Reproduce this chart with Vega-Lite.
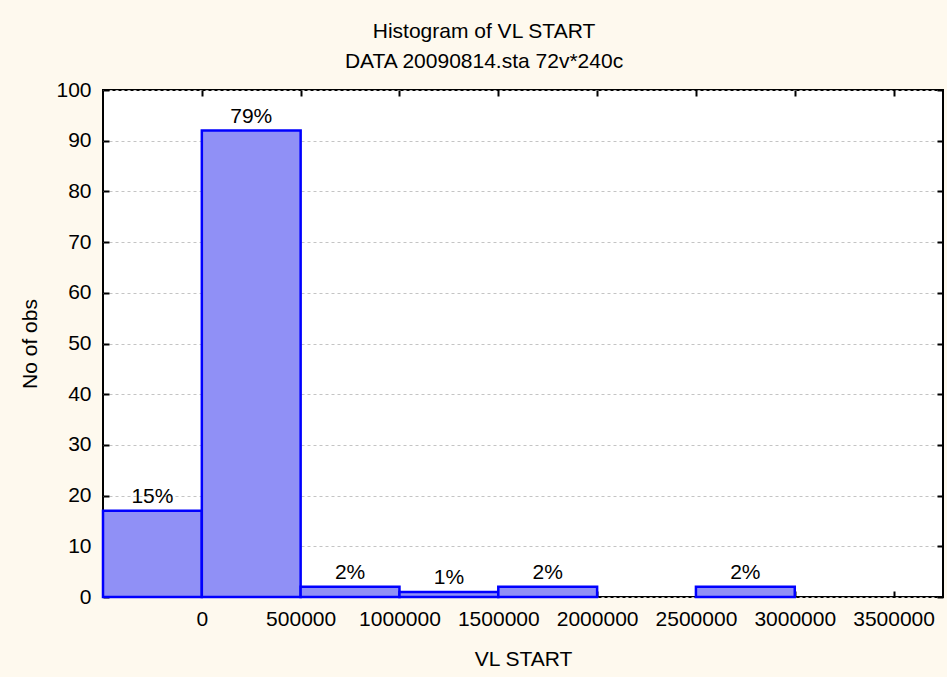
{
  "$schema": "https://vega.github.io/schema/vega-lite/v6.json",
  "width": 840,
  "height": 507,
  "autosize": {"type": "none"},
  "padding": {"left": 103, "top": 90, "right": 4, "bottom": 80},
  "background": "#FEF9EE",
  "title": {
    "text": "Histogram of VL START",
    "subtitle": "DATA 20090814.sta 72v*240c",
    "anchor": "middle",
    "dx": -39,
    "offset": 7,
    "fontSize": 21,
    "subtitleFontSize": 21,
    "fontWeight": "normal",
    "font": "Liberation Sans",
    "subtitleFont": "Liberation Sans",
    "color": "#000000",
    "subtitleColor": "#000000",
    "subtitlePadding": 9
  },
  "config": {
    "font": "Liberation Sans",
    "view": {"fill": "white", "stroke": "#000000", "strokeWidth": 2},
    "axis": {
      "labelFont": "Liberation Sans",
      "titleFont": "Liberation Sans",
      "labelFontSize": 21,
      "titleFontSize": 21,
      "labelColor": "#000000",
      "titleColor": "#000000",
      "titleFontWeight": "normal",
      "domain": false,
      "tickColor": "#000000",
      "tickWidth": 2
    }
  },
  "data": {
    "values": [
      {"bin_start": -500000, "bin_end": 0, "count": 17, "pct": "15%"},
      {"bin_start": 0, "bin_end": 500000, "count": 92, "pct": "79%"},
      {"bin_start": 500000, "bin_end": 1000000, "count": 2, "pct": "2%"},
      {"bin_start": 1000000, "bin_end": 1500000, "count": 1, "pct": "1%"},
      {"bin_start": 1500000, "bin_end": 2000000, "count": 2, "pct": "2%"},
      {"bin_start": 2500000, "bin_end": 3000000, "count": 2, "pct": "2%"}
    ]
  },
  "resolve": {"axis": {"x": "independent", "y": "independent"}},
  "layer": [
    {
      "mark": {"type": "rect", "fill": "#9090F6", "stroke": "#0000FF", "strokeWidth": 2.5},
      "encoding": {
        "x": {
          "field": "bin_start",
          "type": "quantitative",
          "scale": {"domain": [-500000, 3750000], "nice": false, "zero": false},
          "axis": {
            "orient": "bottom",
            "title": "VL START",
            "values": [0, 500000, 1000000, 1500000, 2000000, 2500000, 3000000, 3500000],
            "format": "d",
            "tickSize": -6,
            "labelPadding": 17,
            "titlePadding": 19,
            "grid": false,
            "labelFlush": false,
            "labelOverlap": false
          }
        },
        "x2": {"field": "bin_end"},
        "y": {
          "field": "count",
          "type": "quantitative",
          "scale": {"domain": [0, 100], "nice": false},
          "axis": {
            "orient": "left",
            "title": "No of obs",
            "values": [0, 10, 20, 30, 40, 50, 60, 70, 80, 90, 100],
            "tickSize": -6,
            "labelPadding": 18,
            "titlePadding": 15,
            "grid": true,
            "gridColor": "#C4C4C4",
            "gridDash": [3, 3],
            "gridWidth": 1
          }
        },
        "y2": {"datum": 0}
      }
    },
    {
      "transform": [{"calculate": "(datum.bin_start + datum.bin_end) / 2", "as": "bin_mid"}],
      "mark": {"type": "text", "baseline": "alphabetic", "align": "center", "dy": -8, "fontSize": 21, "font": "Liberation Sans", "color": "#000000"},
      "encoding": {
        "x": {
          "field": "bin_mid",
          "type": "quantitative",
          "scale": {"domain": [-500000, 3750000], "nice": false, "zero": false},
          "axis": {
            "orient": "top",
            "title": null,
            "labels": false,
            "values": [0, 500000, 1000000, 1500000, 2000000, 2500000, 3000000, 3500000],
            "tickSize": -6,
            "grid": false
          }
        },
        "y": {
          "field": "count",
          "type": "quantitative",
          "scale": {"domain": [0, 100], "nice": false},
          "axis": {
            "orient": "right",
            "title": null,
            "labels": false,
            "values": [0, 10, 20, 30, 40, 50, 60, 70, 80, 90, 100],
            "tickSize": -6,
            "grid": false
          }
        },
        "text": {"field": "pct", "type": "nominal"}
      }
    }
  ]
}
